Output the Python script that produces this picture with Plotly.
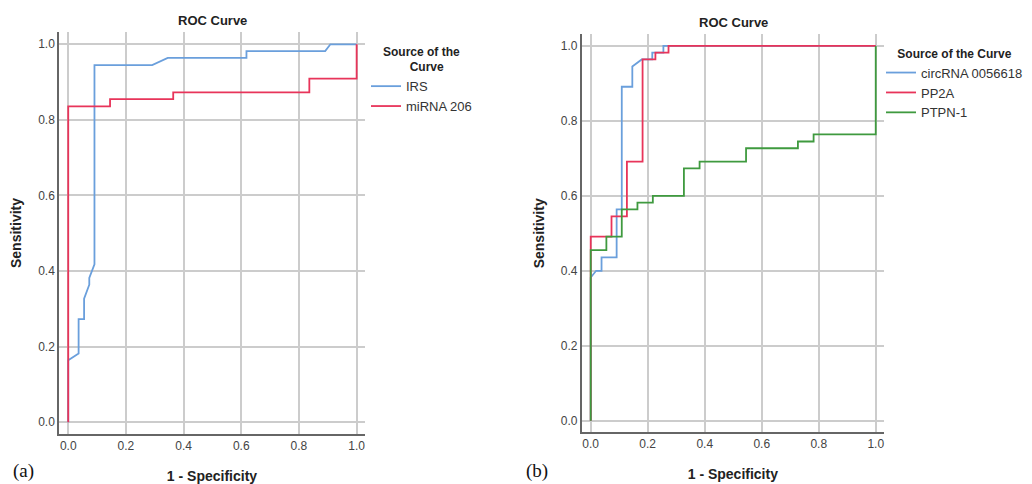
import plotly.graph_objects as go

# ---- Data ----
irs_fpr = [0, 0, 0.036, 0.036, 0.055, 0.055, 0.073, 0.073, 0.091, 0.091, 0.291, 0.345, 0.618, 0.618, 0.891, 0.909, 1.0]
irs_tpr = [0, 0.164, 0.182, 0.273, 0.273, 0.327, 0.364, 0.382, 0.418, 0.945, 0.945, 0.964, 0.964, 0.982, 0.982, 1.0, 1.0]

mir_fpr = [0, 0, 0.145, 0.145, 0.364, 0.364, 0.836, 0.836, 1.0, 1.0]
mir_tpr = [0, 0.836, 0.836, 0.855, 0.855, 0.873, 0.873, 0.909, 0.909, 1.0]

circ_fpr = [0, 0, 0.019, 0.038, 0.038, 0.091, 0.091, 0.109, 0.109, 0.146, 0.146, 0.179, 0.216, 0.216, 0.255, 0.255, 1.0]
circ_tpr = [0, 0.382, 0.400, 0.400, 0.436, 0.436, 0.564, 0.564, 0.891, 0.891, 0.945, 0.964, 0.964, 0.982, 0.982, 1.0, 1.0]

pp2a_fpr = [0, 0, 0.073, 0.073, 0.127, 0.127, 0.182, 0.182, 0.227, 0.227, 0.273, 0.273, 1.0]
pp2a_tpr = [0, 0.491, 0.491, 0.545, 0.545, 0.691, 0.691, 0.964, 0.964, 0.982, 0.982, 1.0, 1.0]

ptpn_fpr = [0, 0, 0.055, 0.055, 0.109, 0.109, 0.164, 0.164, 0.218, 0.218, 0.327, 0.327, 0.382, 0.382,
            0.545, 0.545, 0.727, 0.727, 0.782, 0.782, 1.0, 1.0]
ptpn_tpr = [0, 0.455, 0.455, 0.491, 0.491, 0.564, 0.564, 0.582, 0.582, 0.600, 0.600, 0.673, 0.673, 0.691,
            0.691, 0.727, 0.727, 0.745, 0.745, 0.764, 0.764, 1.0]

tick_vals = [0.0, 0.2, 0.4, 0.6, 0.8, 1.0]
tick_text = ["0.0", "0.2", "0.4", "0.6", "0.8", "1.0"]

BLUE = "#6a9fdc"
RED = "#e8345a"
GREEN = "#3f9a3f"

# page has an 8px body margin; figure sized to fit the 1032x484 window
OFF = 8
W, H = 1024, 476
FONT = "Liberation Sans, Arial, sans-serif"

fig = go.Figure()

def add(x, y, name, color, xa, ya, legend):
    fig.add_trace(go.Scatter(x=x, y=y, mode="lines", name=name,
                             line=dict(color=color, width=1.8),
                             xaxis=xa, yaxis=ya, legend=legend))

add(irs_fpr, irs_tpr, "IRS", BLUE, "x", "y", "legend")
add(mir_fpr, mir_tpr, "miRNA 206", RED, "x", "y", "legend")
add(circ_fpr, circ_tpr, "circRNA 0056618", BLUE, "x2", "y2", "legend2")
add(pp2a_fpr, pp2a_tpr, "PP2A", RED, "x2", "y2", "legend2")
add(ptpn_fpr, ptpn_tpr, "PTPN-1", GREEN, "x2", "y2", "legend2")

def px_x(p):
    return (p - OFF) / W

def px_y(p):
    return 1 - (p - OFF) / H

axis_common = dict(
    tickvals=tick_vals, ticktext=tick_text,
    showgrid=True, gridcolor="#cccccc", gridwidth=1.5,
    zeroline=False, showline=True, linecolor="#666666", linewidth=1.5,
    ticks="", tickfont=dict(family=FONT, size=12, color="#444444"),
    fixedrange=True, automargin=False,
)
title_font = dict(family=FONT, size=14, color="#222222")

fig.update_layout(
    xaxis=dict(domain=[px_x(59), px_x(365)], range=[-0.032, 1.029], anchor="y",
               title=dict(text="<b>1 - Specificity</b>", font=title_font, standoff=19),
               **axis_common),
    yaxis=dict(domain=[px_y(434), px_y(32)], range=[-0.031, 1.0325], anchor="x",
               title=dict(text="<b>Sensitivity</b>", font=title_font, standoff=13),
               **axis_common),
    xaxis2=dict(domain=[px_x(581.7), px_x(884)], range=[-0.0316, 1.029], anchor="y2",
                title=dict(text="<b>1 - Specificity</b>", font=title_font, standoff=19),
                **axis_common),
    yaxis2=dict(domain=[px_y(432.3), px_y(34.3)], range=[-0.031, 1.031], anchor="x2",
                title=dict(text="<b>Sensitivity</b>", font=title_font, standoff=13),
                **axis_common),
)

pad = "&nbsp;" * 8
fig.update_layout(
    width=W, height=H,
    margin=dict(l=0, r=0, t=0, b=0),
    paper_bgcolor="white", plot_bgcolor="white",
    font=dict(family=FONT, color="#333333"),
    legend=dict(
        x=px_x(366), y=px_y(40), xanchor="left", yanchor="top",
        title=dict(text="<b>Source of the<br>" + pad + "Curve</b>", side="top center",
                   font=dict(family=FONT, size=12, color="#222222")),
        font=dict(family=FONT, size=13, color="#333333"),
        bgcolor="rgba(0,0,0,0)", tracegroupgap=0, itemwidth=30,
    ),
    legend2=dict(
        x=px_x(881), y=px_y(42), xanchor="left", yanchor="top",
        title=dict(text="<b>Source of the Curve</b>", side="top center",
                   font=dict(family=FONT, size=12, color="#222222")),
        font=dict(family=FONT, size=13, color="#333333"),
        bgcolor="rgba(0,0,0,0)", tracegroupgap=0, itemwidth=30,
    ),
    annotations=[
        dict(text="<b>ROC Curve</b>", x=px_x(212), y=px_y(20), xref="paper", yref="paper",
             showarrow=False, xanchor="center", yanchor="middle",
             font=dict(family=FONT, size=13, color="#222222")),
        dict(text="<b>ROC Curve</b>", x=px_x(733), y=px_y(22), xref="paper", yref="paper",
             showarrow=False, xanchor="center", yanchor="middle",
             font=dict(family=FONT, size=13, color="#222222")),
        dict(text="(a)", x=px_x(11), y=px_y(471), xref="paper", yref="paper",
             showarrow=False, xanchor="left", yanchor="middle",
             font=dict(family="Liberation Serif, Times New Roman, serif", size=19, color="#111111")),
        dict(text="(b)", x=px_x(524), y=px_y(471), xref="paper", yref="paper",
             showarrow=False, xanchor="left", yanchor="middle",
             font=dict(family="Liberation Serif, Times New Roman, serif", size=19, color="#111111")),
    ],
)

fig.write_html("out.html")
